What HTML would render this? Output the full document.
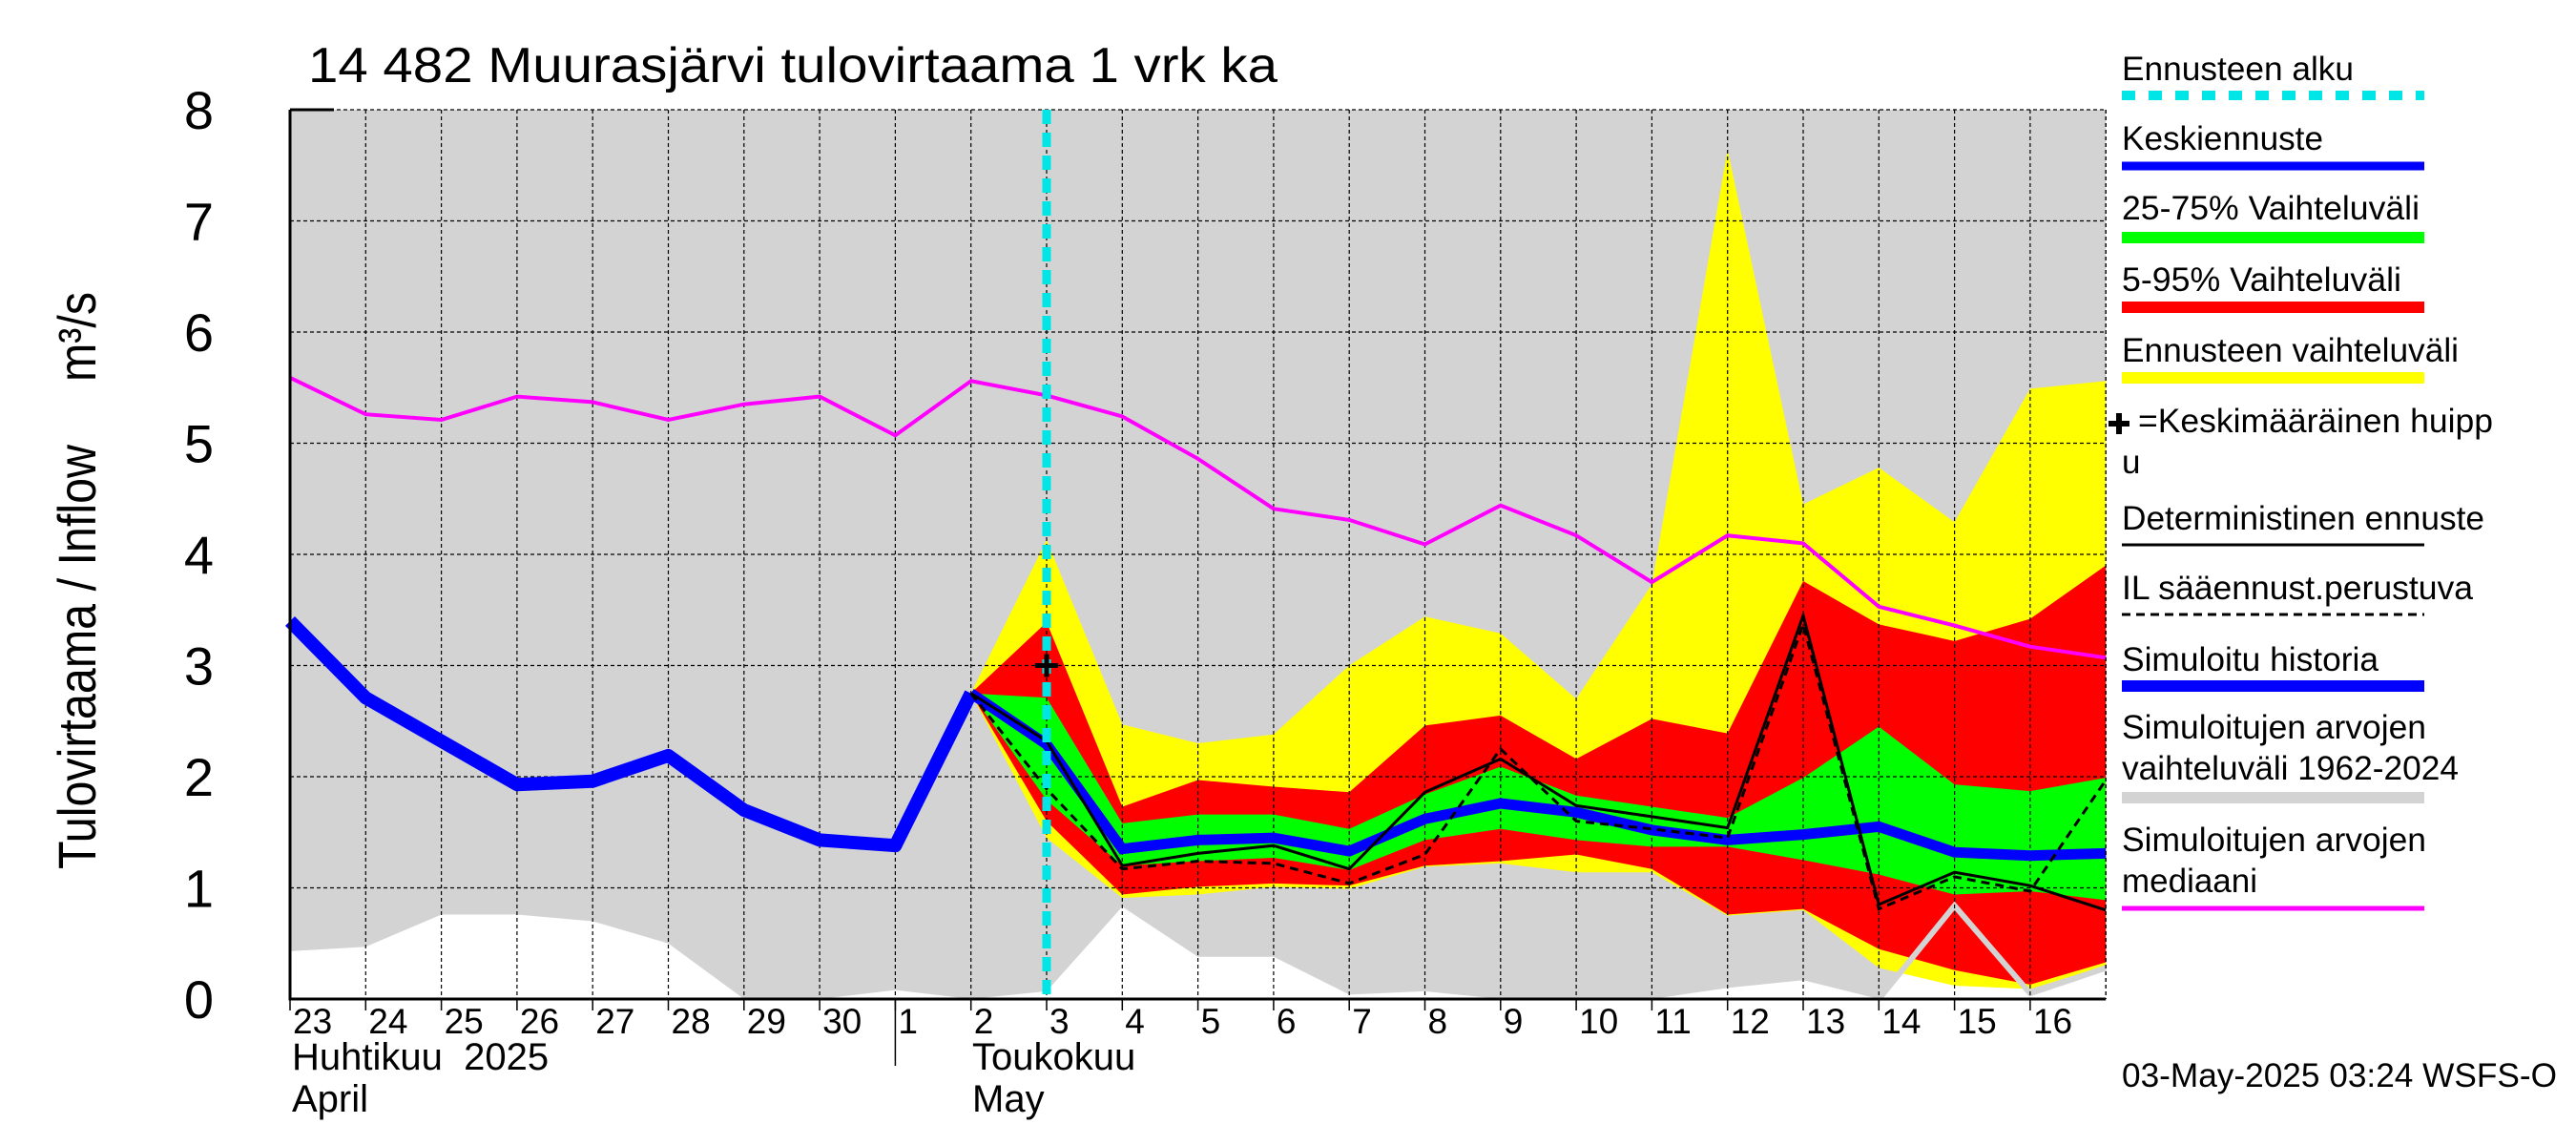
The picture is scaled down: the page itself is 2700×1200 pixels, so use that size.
<!DOCTYPE html>
<html><head><meta charset="utf-8"><style>
html,body{margin:0;padding:0;background:#fff;}
svg{display:block;font-family:"Liberation Sans",Arial,sans-serif;}
</style></head><body>
<svg id="chart" width="2700" height="1200" viewBox="0 0 2700 1200" xmlns="http://www.w3.org/2000/svg">
<g id="plot"></g>
<text x="323" y="86" font-size="52" textLength="1016" lengthAdjust="spacingAndGlyphs">14 482 Muurasjärvi tulovirtaama 1 vrk ka</text>
<g font-size="56">
<text transform="translate(100,911) rotate(-90)" textLength="445" lengthAdjust="spacingAndGlyphs">Tulovirtaama / Inflow</text>
<text transform="translate(100,400) rotate(-90)" textLength="94" lengthAdjust="spacingAndGlyphs">m³/s</text>
</g>
<g id="legend" font-size="35">
 <g><text x="2224" y="84" textLength="243" lengthAdjust="spacingAndGlyphs">Ennusteen alku</text><line x1="2224" y1="100" x2="2541" y2="100" stroke="#00e5e5" stroke-width="10" stroke-dasharray="14,14"/></g>
 <g><text x="2224" y="157" textLength="211" lengthAdjust="spacingAndGlyphs">Keskiennuste</text><line x1="2224" y1="174" x2="2541" y2="174" stroke="#0000ff" stroke-width="9"/></g>
 <g><text x="2224" y="230" textLength="312" lengthAdjust="spacingAndGlyphs">25-75% Vaihteluväli</text><line x1="2224" y1="249" x2="2541" y2="249" stroke="#00ff00" stroke-width="12"/></g>
 <g><text x="2224" y="305" textLength="293" lengthAdjust="spacingAndGlyphs">5-95% Vaihteluväli</text><line x1="2224" y1="322" x2="2541" y2="322" stroke="#ff0000" stroke-width="12"/></g>
 <g><text x="2224" y="379" textLength="353" lengthAdjust="spacingAndGlyphs">Ennusteen vaihteluväli</text><line x1="2224" y1="396" x2="2541" y2="396" stroke="#ffff00" stroke-width="12"/></g>
 <g><path d="M2210 444 h22 M2221 433 v22" stroke="#000" stroke-width="6"/><text x="2241" y="453" textLength="372" lengthAdjust="spacingAndGlyphs">=Keskimääräinen huipp</text><text x="2224" y="496">u</text></g>
 <g><text x="2224" y="555" textLength="380" lengthAdjust="spacingAndGlyphs">Deterministinen ennuste</text><line x1="2224" y1="571" x2="2541" y2="571" stroke="#000" stroke-width="3"/></g>
 <g><text x="2224" y="628" textLength="368" lengthAdjust="spacingAndGlyphs">IL sääennust.perustuva</text><line x1="2224" y1="644" x2="2541" y2="644" stroke="#000" stroke-width="3" stroke-dasharray="9,6"/></g>
 <g><text x="2224" y="703" textLength="269" lengthAdjust="spacingAndGlyphs">Simuloitu historia</text><line x1="2224" y1="719" x2="2541" y2="719" stroke="#0000ff" stroke-width="12"/></g>
 <g><text x="2224" y="774" textLength="319" lengthAdjust="spacingAndGlyphs">Simuloitujen arvojen</text><text x="2224" y="817" textLength="353" lengthAdjust="spacingAndGlyphs">vaihteluväli 1962-2024</text><line x1="2224" y1="836" x2="2541" y2="836" stroke="#d3d3d3" stroke-width="12"/></g>
 <g><text x="2224" y="892" textLength="319" lengthAdjust="spacingAndGlyphs">Simuloitujen arvojen</text><text x="2224" y="935" textLength="142" lengthAdjust="spacingAndGlyphs">mediaani</text><line x1="2224" y1="952" x2="2541" y2="952" stroke="#ff00ff" stroke-width="5"/></g>
</g>
<text x="2224" y="1139" font-size="35" textLength="456" lengthAdjust="spacingAndGlyphs">03-May-2025 03:24 WSFS-O</text>
</svg>
<script>
// x index 0 = 23 Apr ... 24 = 17 May
const dayLabels = ["23","24","25","26","27","28","29","30","1","2","3","4","5","6","7","8","9","10","11","12","13","14","15","16"];
const yTicks = [0,1,2,3,4,5,6,7,8];
const historyVals = [3.40,2.71,2.32,1.93,1.96,2.19,1.70,1.43,1.38,2.75];
const fcStart = 9;
const meanFc = [2.75,2.29,1.35,1.43,1.45,1.33,1.62,1.76,1.68,1.52,1.43,1.48,1.55,1.32,1.29,1.31];
const medianVals = [5.59,5.26,5.21,5.42,5.37,5.21,5.35,5.42,5.07,5.56,5.43,5.24,4.86,4.41,4.31,4.09,4.44,4.17,3.75,4.17,4.10,3.53,3.36,3.17,3.07];
const simLow = [0.43,0.47,0.76,0.76,0.70,0.50,0,0,0.08,0,0.07,0.83,0.38,0.38,0.04,0.07,0,0,0,0.10,0.17,0,0.84,0.05,0.28];
const simHigh = [8,8,8,8,8,8,8,8,8,8,8,8,8,8,8,8,8,8,8,8,8,8,8,8,8];
const yelHi = [2.75,4.13,2.47,2.30,2.38,3.00,3.44,3.29,2.70,3.73,7.64,4.45,4.78,4.29,5.49,5.56];
const yelLo = [2.75,1.45,0.91,0.94,1.01,0.99,1.19,1.22,1.14,1.14,0.75,0.80,0.28,0.12,0.09,0.30];
const redHi = [2.75,3.39,1.73,1.97,1.91,1.86,2.46,2.55,2.16,2.52,2.39,3.76,3.37,3.22,3.42,3.90];
const redLo = [2.75,1.60,0.94,1.01,1.04,1.02,1.20,1.24,1.30,1.17,0.76,0.81,0.45,0.26,0.13,0.33];
const grnHi = [2.75,2.71,1.58,1.66,1.66,1.53,1.84,2.09,1.83,1.73,1.63,1.99,2.45,1.93,1.87,1.99];
const grnLo = [2.75,1.79,1.20,1.24,1.27,1.16,1.43,1.53,1.43,1.37,1.37,1.25,1.12,0.94,0.97,0.89];
const detVals = [2.75,2.32,1.20,1.31,1.38,1.17,1.86,2.16,1.74,1.64,1.54,3.45,0.85,1.14,1.02,0.80];
const ilVals = [2.75,1.89,1.17,1.24,1.22,1.04,1.30,2.25,1.60,1.53,1.45,3.37,0.81,1.10,0.97,1.97];
const peakIdx = 10, peakVal = 3.0;
const fcLineIdx = 10;

const X0=304, DX=79.3, Y0=1047, DY=116.5, NDAYS=24;
const xs = i => X0 + i*DX;
const ys = v => Y0 - v*DY;
const NS="http://www.w3.org/2000/svg";
const plot=document.getElementById('plot');
function mk(tag, attrs){const e=document.createElementNS(NS,tag);for(const k in attrs)e.setAttribute(k,attrs[k]);plot.appendChild(e);return e;}
function pts(vals, off){return vals.map((v,i)=>xs(i+off).toFixed(1)+','+ys(v).toFixed(1)).join(' ');}
function band(hi,lo,off,color,name){
  const p = hi.map((v,i)=>xs(i+off)+','+ys(v)).concat(lo.map((v,i)=>xs(i+off)+','+ys(v)).reverse()).join(' ');
  const e=mk('polygon',{points:p,fill:color});
  
  
}
const bg=mk('rect',{x:X0,y:ys(8),width:NDAYS*DX,height:8*DY,fill:'#fff'});


band(simHigh,simLow,0,'#d3d3d3','simulated-range-band');
band(yelHi,yelLo,fcStart,'#ffff00','forecast-range-band');
band(redHi,redLo,fcStart,'#ff0000','band-5-95');
band(grnHi,grnLo,fcStart,'#00ff00','band-25-75');
const gl=mk('polyline',{points:simLow.slice(21).map((v,i)=>xs(i+21)+','+ys(v)).join(' '),fill:'none',stroke:'#d3d3d3','stroke-width':6});


for(let i=1;i<=NDAYS;i++){
  const g=mk('line',{x1:xs(i),y1:ys(8),x2:xs(i),y2:Y0,stroke:'#000','stroke-width':1.2,'stroke-dasharray':'4,3'});
  
  
}
yTicks.forEach(t=>{
  if(t>0){const g=mk('line',{x1:X0,y1:ys(t),x2:xs(NDAYS),y2:ys(t),stroke:'#000','stroke-width':1.2,'stroke-dasharray':'4,3'});
  
  }
  const tl=mk('text',{x:224,y:ys(t)+20,'font-size':56,'text-anchor':'end'});
  tl.textContent=String(t);
  
  
});
const md=mk('polyline',{points:pts(medianVals,0),fill:'none',stroke:'#ff00ff','stroke-width':4});


const hs=mk('polyline',{points:pts(historyVals,0),fill:'none',stroke:'#0000ff','stroke-width':14,'stroke-linejoin':'round'});


const mf=mk('polyline',{points:pts(meanFc,fcStart),fill:'none',stroke:'#0000ff','stroke-width':11});


const dt=mk('polyline',{points:pts(detVals,fcStart),fill:'none',stroke:'#000','stroke-width':3});


const il=mk('polyline',{points:pts(ilVals,fcStart),fill:'none',stroke:'#000','stroke-width':3,'stroke-dasharray':'9,6'});


const fl=mk('line',{x1:xs(fcLineIdx),y1:ys(8),x2:xs(fcLineIdx),y2:Y0,stroke:'#00e5e5','stroke-width':9,'stroke-dasharray':'15,9'});


const pk=mk('path',{d:`M${xs(peakIdx)-12} ${ys(peakVal)} h24 M${xs(peakIdx)} ${ys(peakVal)-12} v24`,stroke:'#000','stroke-width':5});


const ax=mk('path',{d:`M${X0} ${ys(8)} V${Y0} H${xs(NDAYS)}`,fill:'none',stroke:'#000','stroke-width':3});


const tk=mk('line',{x1:X0,y1:ys(8),x2:X0+46,y2:ys(8),stroke:'#000','stroke-width':3});


const rb=mk('line',{x1:xs(NDAYS),y1:ys(8),x2:xs(NDAYS),y2:Y0,stroke:'#000','stroke-width':1.2,'stroke-dasharray':'4,3'});


dayLabels.forEach((d,i)=>{
  const t=mk('text',{x:xs(i)+3,y:1083,'font-size':37});
  t.textContent=d;
  
  
  const m=mk('line',{x1:xs(i),y1:Y0,x2:xs(i),y2:Y0+12,stroke:'#000','stroke-width':1.5});
  
  
});
const sep=mk('line',{x1:xs(8),y1:Y0,x2:xs(8),y2:1117,stroke:'#000','stroke-width':1.5});


[["Huhtikuu  2025",306,1121],["April",306,1165],["Toukokuu",1019,1121],["May",1019,1165]].forEach(a=>{
  const t=mk('text',{x:a[1],y:a[2],'font-size':40});
  t.setAttribute('xml:space','preserve');
  t.style.whiteSpace='pre';
  t.textContent=a[0];
  
  
});
</script>
</body></html>
